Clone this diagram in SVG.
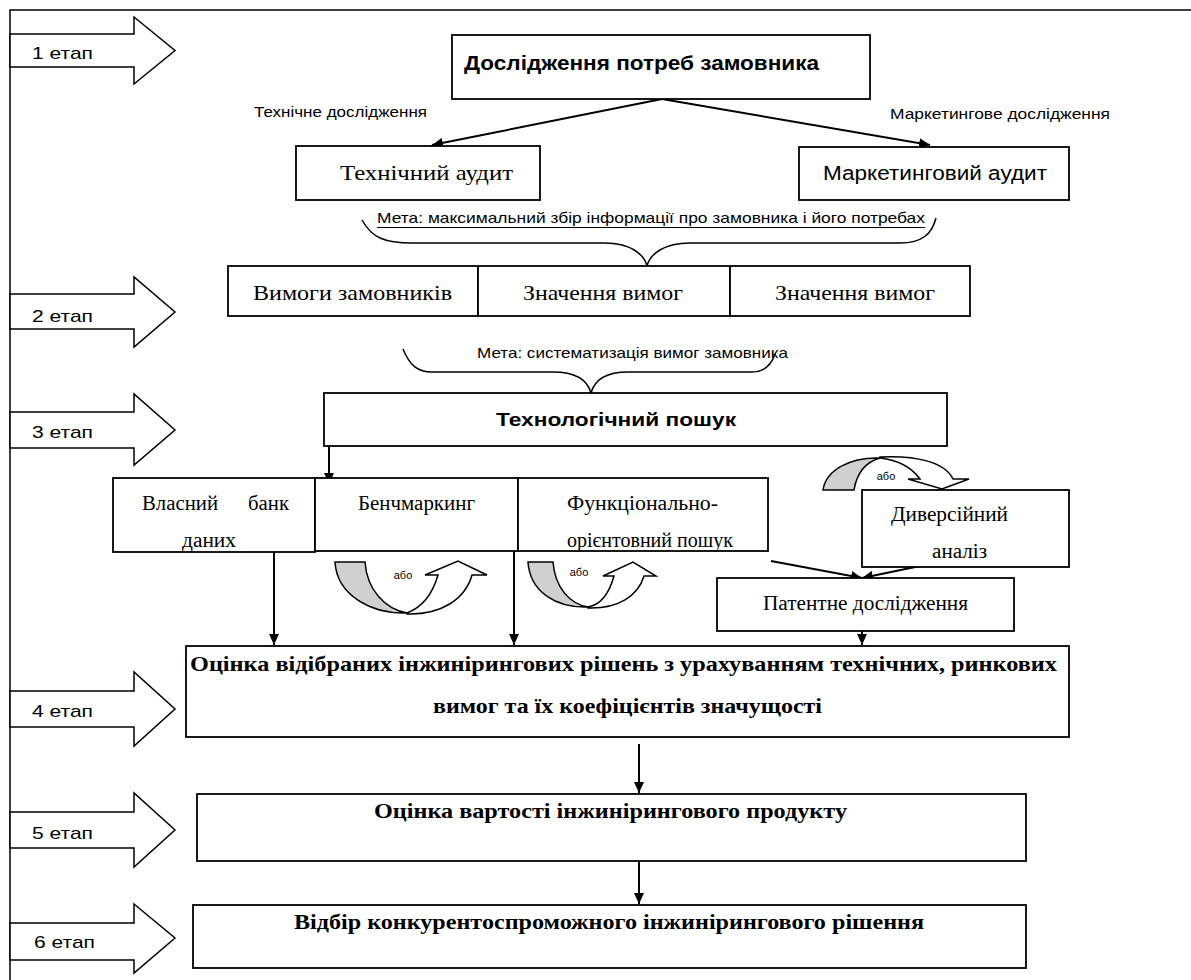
<svg xmlns="http://www.w3.org/2000/svg" width="1191" height="980" viewBox="0 0 1191 980">
<defs>
<style>
.box{fill:#fff;stroke:#000;stroke-width:1.8}
.stage{fill:#fff;stroke:#000;stroke-width:1.5}
.frame{fill:none;stroke:#000;stroke-width:1.5}
.conn{fill:none;stroke:#000;stroke-width:2}
.brace{fill:none;stroke:#000;stroke-width:1.5}
.sans{font-family:"Liberation Sans",Arial,sans-serif;fill:#000}
.serif{font-family:"Liberation Serif","Times New Roman",serif;fill:#000}
.b{font-weight:bold}
.gray{fill:#d0d0d0;stroke:#000;stroke-width:1.5}
.white{fill:#fff;stroke:#000;stroke-width:1.5}
</style>
<marker id="ah" markerUnits="userSpaceOnUse" markerWidth="12" markerHeight="10" refX="11" refY="5" orient="auto">
<path d="M0,0 L11,5 L0,10 Z" fill="#000"/>
</marker>
</defs>
<rect x="0" y="0" width="1191" height="980" fill="#fff"/>
<path class="frame" d="M10,980 L10,10 L1191,10"/>

<g id="stage1"><polygon class="stage" points="10,34 134,34 134,17 175,50.5 134,84 134,67 10,67"/><text class="sans" x="32" y="59" font-size="17" textLength="61" lengthAdjust="spacingAndGlyphs">1 етап</text></g>
<g id="stage2"><polygon class="stage" points="10,294 134,294 134,277 175,312 134,347 134,329 10,329"/><text class="sans" x="32" y="322" font-size="17" textLength="61" lengthAdjust="spacingAndGlyphs">2 етап</text></g>
<g id="stage3"><polygon class="stage" points="10,412 134,412 134,394 175,430 134,465 134,448 10,448"/><text class="sans" x="32" y="438" font-size="17" textLength="61" lengthAdjust="spacingAndGlyphs">3 етап</text></g>
<g id="stage4"><polygon class="stage" points="10,691 134,691 134,672 175,709 134,746 134,727 10,727"/><text class="sans" x="32" y="717" font-size="17" textLength="61" lengthAdjust="spacingAndGlyphs">4 етап</text></g>
<g id="stage5"><polygon class="stage" points="10,812 134,812 134,793 175,830 134,867 134,848 10,848"/><text class="sans" x="32" y="839" font-size="17" textLength="61" lengthAdjust="spacingAndGlyphs">5 етап</text></g>
<g id="stage6"><polygon class="stage" points="10,923 134,923 134,904 175,938 134,973 134,960 10,960"/><text class="sans" x="34" y="948" font-size="17" textLength="61" lengthAdjust="spacingAndGlyphs">6 етап</text></g>

<g id="connectors">
<line class="conn" x1="662" y1="99" x2="432" y2="145" marker-end="url(#ah)"/>
<line class="conn" x1="662" y1="99" x2="930" y2="145" marker-end="url(#ah)"/>
<line class="conn" x1="329" y1="446" x2="329" y2="484" marker-end="url(#ah)"/>
<line class="conn" x1="771" y1="561" x2="862" y2="578" marker-end="url(#ah)"/>
<line class="conn" x1="920" y1="566" x2="862" y2="578" marker-end="url(#ah)"/>
<line class="conn" x1="862" y1="631" x2="862" y2="645" marker-end="url(#ah)"/>
<line class="conn" x1="274" y1="552" x2="274" y2="645" marker-end="url(#ah)"/>
<line class="conn" x1="514" y1="551" x2="514" y2="645" marker-end="url(#ah)"/>
<line class="conn" x1="639" y1="744" x2="639" y2="793" marker-end="url(#ah)"/>
<line class="conn" x1="639" y1="861" x2="639" y2="904" marker-end="url(#ah)"/>
</g>

<g id="node-research"><rect class="box" x="452" y="35" width="418" height="64"/><text class="sans b" x="464" y="70" font-size="19.5" textLength="355" lengthAdjust="spacingAndGlyphs">Дослідження потреб замовника</text></g>
<g id="label-tech"><text class="sans" x="254" y="117" font-size="14.5" textLength="173" lengthAdjust="spacingAndGlyphs">Технічне дослідження</text></g>
<g id="label-mark"><text class="sans" x="890" y="119" font-size="14.5" textLength="220" lengthAdjust="spacingAndGlyphs">Маркетингове дослідження</text></g>
<g id="node-tech-audit"><rect class="box" x="296" y="146" width="244" height="54"/><text class="serif" x="340" y="180" font-size="21" textLength="173" lengthAdjust="spacingAndGlyphs">Технічний аудит</text></g>
<g id="node-mark-audit"><rect class="box" x="799" y="147" width="270" height="53"/><text class="sans" x="823" y="180" font-size="20" textLength="224" lengthAdjust="spacingAndGlyphs">Маркетинговий аудит</text></g>

<g id="goal1">
<text class="sans" x="377" y="223" font-size="14.5" textLength="548" lengthAdjust="spacingAndGlyphs">Мета: максимальний збір інформації про замовника і його потребах</text>
<line x1="377" y1="227.5" x2="925" y2="227.5" stroke="#000" stroke-width="1.2"/>
<path class="brace" d="M362,220 C372,238 385,243 412,243 L605,243 C630,243 644,254 647,266 C650,254 664,243 690,243 L900,243 C922,243 932,234 936,218"/>
</g>

<g id="node-req"><rect class="box" x="228" y="266" width="250" height="50"/><text class="serif" x="253" y="300" font-size="21" textLength="199" lengthAdjust="spacingAndGlyphs">Вимоги замовників</text></g>
<g id="node-val1"><rect class="box" x="478" y="266" width="252" height="50"/><text class="serif" x="523" y="300" font-size="21" textLength="160" lengthAdjust="spacingAndGlyphs">Значення вимог</text></g>
<g id="node-val2"><rect class="box" x="730" y="266" width="240" height="50"/><text class="serif" x="775" y="300" font-size="21" textLength="160" lengthAdjust="spacingAndGlyphs">Значення вимог</text></g>

<g id="goal2">
<text class="sans" x="477" y="358" font-size="14.5" textLength="311" lengthAdjust="spacingAndGlyphs">Мета: систематизація вимог замовника</text>
<path class="brace" d="M403,349 C410,366 418,372 432,372 L553,372 C578,372 588,382 591,393 C594,382 604,372 628,372 L752,372 C764,372 771,366 775,354"/>
</g>

<g id="node-techsearch"><rect class="box" x="324" y="393" width="623" height="53"/><text class="sans b" x="496" y="426" font-size="18" textLength="240" lengthAdjust="spacingAndGlyphs">Технологічний пошук</text></g>

<g id="node-own-db"><rect class="box" x="113" y="478" width="202" height="74"/>
<text class="serif" x="142" y="510" font-size="20" textLength="76" lengthAdjust="spacingAndGlyphs">Власний</text>
<text class="serif" x="248" y="510" font-size="20" textLength="41" lengthAdjust="spacingAndGlyphs">банк</text>
<text class="serif" x="182" y="547" font-size="20" textLength="54" lengthAdjust="spacingAndGlyphs">даних</text></g>
<g id="node-bench"><rect class="box" x="315" y="478" width="203" height="73"/><text class="serif" x="358" y="510" font-size="20" textLength="117" lengthAdjust="spacingAndGlyphs">Бенчмаркинг</text></g>
<g id="node-func"><rect class="box" x="518" y="478" width="250" height="73"/>
<text class="serif" x="567" y="510" font-size="20" textLength="151" lengthAdjust="spacingAndGlyphs">Функціонально-</text>
<text class="serif" x="567" y="547" font-size="20" textLength="166" lengthAdjust="spacingAndGlyphs">орієнтовний пошук</text></g>
<g id="node-divers"><rect class="box" x="862" y="490" width="207" height="77"/>
<text class="serif" x="891" y="521" font-size="20" textLength="117" lengthAdjust="spacingAndGlyphs">Диверсійний</text>
<text class="serif" x="932" y="558" font-size="20" textLength="55" lengthAdjust="spacingAndGlyphs">аналіз</text></g>
<g id="node-patent"><rect class="box" x="717" y="578" width="297" height="53"/><text class="serif" x="763" y="610" font-size="20" textLength="205" lengthAdjust="spacingAndGlyphs">Патентне дослідження</text></g>

<g id="or1">
<path class="gray" d="M335,562 L365,562 C367,590 385,609 407,613 C372,614 337,596 335,562 Z"/>
<path class="white" d="M407,614 C440,615 465,600 472,575 L487,575 L458,561 L425,575 L438,575 C432,596 420,608 407,613 Z"/>
<text class="sans" x="403" y="579" font-size="11" text-anchor="middle">або</text>
</g>
<g id="or2">
<path class="gray" d="M528,562 L553,562 C555,588 570,604 588,607 C556,608 530,592 528,562 Z"/>
<path class="white" d="M588,608 C618,609 638,596 644,576 L656,576 L633,562 L603,576 L614,576 C609,594 600,605 588,607 Z"/>
<text class="sans" x="579" y="576" font-size="11" text-anchor="middle">або</text>
</g>
<g id="or3">
<path class="gray" d="M823,490 L854,490 C857,472 866,462 880,458 C850,457 826,470 823,490 Z"/>
<path class="white" d="M880,457 C915,455 945,462 953,479 L969,479 L942,489 L908,479 L920,479 C912,468 898,460 880,458 Z"/>
<text class="sans" x="886" y="480" font-size="11" text-anchor="middle">або</text>
</g>

<g id="node-eval"><rect class="box" x="186" y="646" width="883" height="91"/>
<text class="serif b" x="190" y="671" font-size="21" textLength="867" lengthAdjust="spacingAndGlyphs">Оцінка відібраних інжинірингових рішень з урахуванням технічних, ринкових</text>
<text class="serif b" x="433" y="713" font-size="21" textLength="389" lengthAdjust="spacingAndGlyphs">вимог та їх коефіцієнтів значущості</text></g>
<g id="node-cost"><rect class="box" x="197" y="794" width="829" height="67"/><text class="serif b" x="374" y="818" font-size="21" textLength="473" lengthAdjust="spacingAndGlyphs">Оцінка вартості інжинірингового продукту</text></g>
<g id="node-select"><rect class="box" x="193" y="905" width="833" height="63"/><text class="serif b" x="294" y="929" font-size="21" textLength="630" lengthAdjust="spacingAndGlyphs">Відбір конкурентоспроможного інжинірингового рішення</text></g>
</svg>
